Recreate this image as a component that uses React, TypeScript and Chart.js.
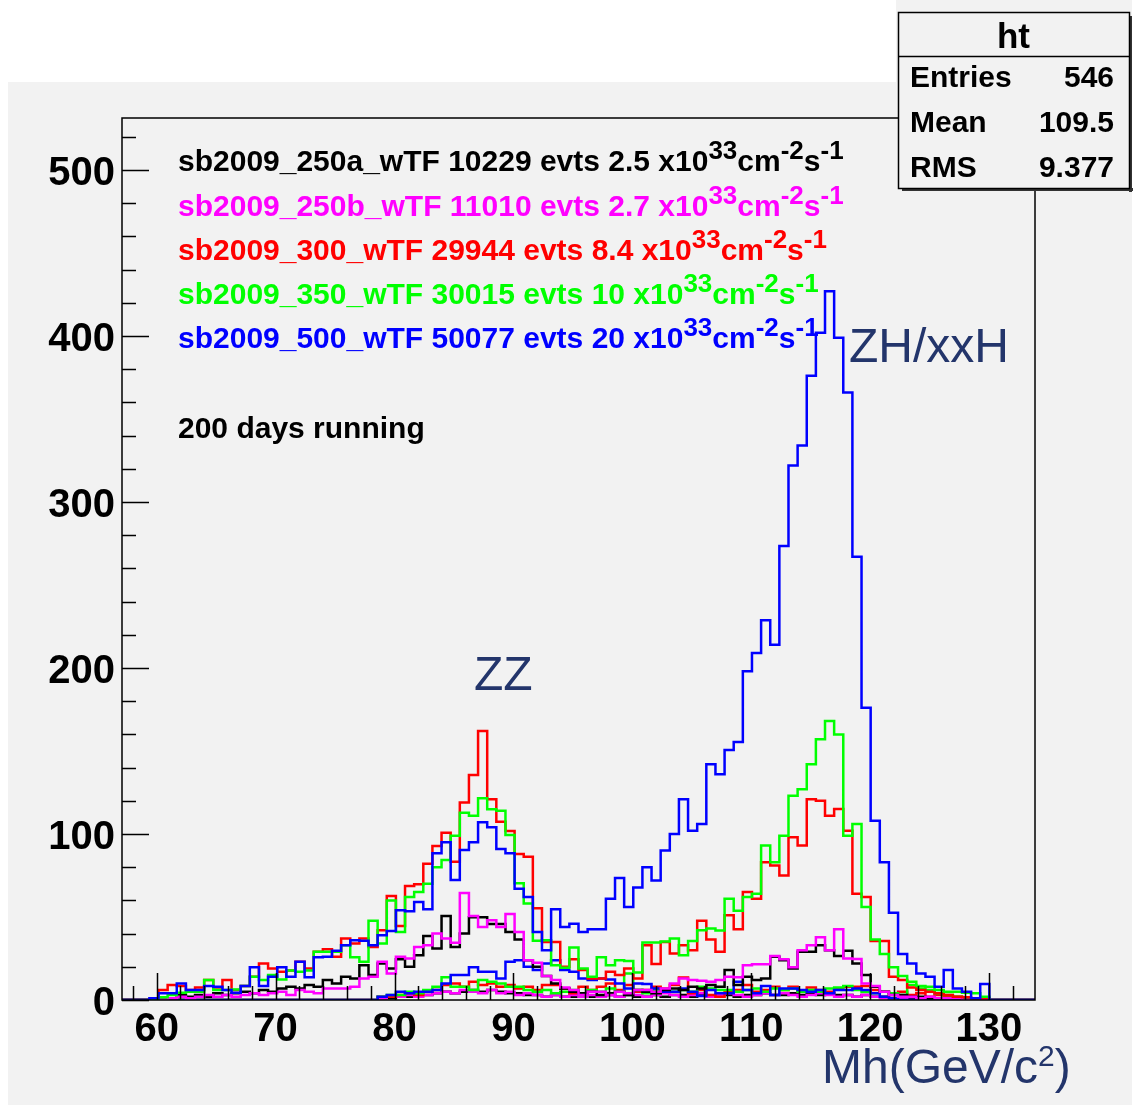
import React, { useEffect, useRef } from "react";
import { Chart, registerables } from "chart.js";

Chart.register(...registerables);

const W = 1137;
const H = 1105;
const X_MIN = 57.08;
const X_MAX = 133.87;
const N_BINS = 100;
const Y_MAX = 531.3;
const FONT = '"Liberation Sans", Arial, Helvetica, sans-serif';
const BG = "#f2f2f2";
const NAVY = "#23356b";

const xMajorTicks = [60, 70, 80, 90, 100, 110, 120, 130];
const xMinorStep = 2;
const yMajorTicks = [0, 100, 200, 300, 400, 500];
const yMinorStep = 20;

const legendNames = ["sb2009_250a_wTF", "sb2009_250b_wTF", "sb2009_300_wTF", "sb2009_350_wTF", "sb2009_500_wTF"];
const legendEvents = ["10229", "11010", "29944", "30015", "50077"];
const legendLumi = ["2.5", "2.7", "8.4", "10", "20"];
const legendColors = ["#000000", "#ff00ff", "#ff0000", "#00ff00", "#0000ff"];

const statsTitle = "ht";
const statsLabels = ["Entries", "Mean", "RMS"];
const statsValues = ["546", "109.5", "9.377"];

// main histograms (100 bins)
const blackMain = [
  0, 0, 0, 0, 0, 1, 3, 2, 3, 2,
  4, 3, 4, 5, 4, 6, 5, 7, 8, 7,
  9, 8, 12, 10, 14, 13, 21, 15, 22, 19,
  24.5, 20, 27, 38.6, 31, 50.6, 32, 40, 49.8, 49.8,
  45.8, 45.8, 41, 36.5, 24, 20, 14.5, 10, 7, 5,
  4, 5, 3, 4, 5, 3, 6, 5, 4, 6,
  7, 6, 8, 7, 9, 8, 18, 9, 14, 12,
  13, 26, 24, 19, 29, 29, 33, 30, 26.5, 29.7,
  22, 15, 8, 5, 3, 3, 2, 2, 1, 1,
  1, 0, 0, 0, 0, 0, 0, 0, 0, 0,
];
const magentaMain = [
  0, 0, 0, 0, 0, 1, 2, 1, 2, 3,
  2, 3, 2, 3, 4, 3, 4, 5, 3, 6,
  5, 4, 7, 7, 7, 8, 13, 14, 23, 16,
  26, 25, 32, 33, 40, 37, 34.5, 64.5, 50.6, 44,
  48, 44, 51.8, 41, 24, 22.5, 14.5, 12, 7.6, 6,
  3, 5, 5, 3, 5, 4, 6, 6, 5, 7,
  10, 13, 12, 11.6, 11, 12, 14, 13.7, 21, 21.5,
  21.5, 26.5, 24.5, 19.7, 30, 33, 37.8, 30, 42.6, 25,
  24.7, 10, 8.4, 5, 3, 2, 2, 1, 2, 1,
  1, 1, 0, 1, 0, 0, 0, 0, 0, 0,
];
const redMain = [
  0, 0, 0, 0, 6, 9, 8.4, 6, 7.6, 12,
  7.6, 12, 6, 8.4, 14, 22, 19, 17, 17.7, 23,
  19, 29, 30.5, 26, 37, 34, 37, 32, 42, 62.6,
  44.6, 68.7, 69.7, 82, 92.8, 100.8, 83.3, 119, 135.5, 162,
  121, 107.4, 101.8, 88, 86.3, 55.2, 35, 35, 20, 24.5,
  18, 13, 13, 17, 15, 19, 13, 33, 21.7, 35,
  28, 33, 30, 47.8, 36.5, 29, 51, 42.6, 65, 61,
  83, 81, 75, 98, 93, 121, 120, 111, 115, 102,
  64, 62, 35.5, 35.5, 14, 12, 7.6, 6, 5, 4,
  3, 2, 1.6, 1, 1, 0, 0, 0, 0, 0,
];
const greenMain = [
  0, 0, 0, 0, 1.6, 3, 4.4, 5, 5, 12,
  6, 6, 6.4, 8.4, 14, 12, 15, 12.4, 17.7, 17,
  17.7, 29, 29, 29, 33, 25.7, 23, 47.8, 34, 60,
  41, 62, 65, 70, 80, 84.3, 99, 112.8, 111, 121.5,
  114.9, 114, 99.4, 70.3, 58.2, 35.7, 36, 21, 19.5, 31.7,
  19, 14, 25.7, 21, 24, 23.5, 16.5, 34.6, 34.6, 35.3,
  37, 27, 35.6, 42, 43, 41.8, 61, 53.8, 62, 64,
  93, 83, 99, 123, 127, 142, 157, 168, 160, 99,
  106, 56, 36.5, 27.7, 19.7, 14.5, 11, 8.4, 8, 6,
  5, 5, 4.4, 4, 2, 0, 0, 0, 0, 0,
];
const blueMain = [
  0, 0, 0, 1, 4, 4, 10, 6, 6, 8.4,
  8, 6, 4.4, 8.4, 19.7, 8.4, 14, 19.7, 14, 23,
  13.7, 25.7, 26, 29.7, 33, 36, 35.7, 33, 39, 41.5,
  54, 53.5, 59, 54.6, 88.4, 95, 72.3, 90.4, 95, 107,
  104, 91, 88.4, 67, 62, 41, 30, 54.6, 44, 46,
  41, 42.6, 42.6, 61, 73.5, 56, 67.7, 80, 72, 90,
  100, 121, 102, 106, 142, 136, 150.6, 155.4, 198, 209,
  228.7, 214, 273.5, 322, 334, 376, 402, 427, 399, 366,
  267, 176, 108, 83, 52.6, 27.7, 22, 16, 14, 8,
  18, 7, 5, 1, 9.6, 0, 0, 0, 0, 0,
];

// low-level companion histograms (100 bins)
const blackLow = [
  0, 0, 0, 0, 0, 0, 0, 0, 0, 0,
  0, 0, 0, 0, 0, 0, 0, 0, 0, 0,
  0, 0, 0, 0, 0, 0, 0, 0, 1, 1,
  2, 2, 3, 3, 4, 5, 4, 5, 6, 5,
  6, 5, 4, 4, 3, 3, 2, 3, 2, 2,
  3, 2, 2, 3, 2, 3, 2, 2, 3, 2,
  3, 3, 2, 3, 2, 3, 3, 2, 3, 3,
  4, 3, 3, 4, 3, 4, 3, 4, 3, 3,
  2, 3, 2, 2, 1, 1, 1, 0, 0, 0,
  0, 0, 0, 0, 0, 0, 0, 0, 0, 0,
];
const magentaLow = [
  0, 0, 0, 0, 0, 0, 0, 0, 0, 0,
  0, 0, 0, 0, 0, 0, 0, 0, 0, 0,
  0, 0, 0, 0, 0, 0, 0, 0, 1, 2,
  2, 3, 2, 3, 4, 5, 4, 6, 5, 4,
  6, 4, 5, 3, 4, 3, 2, 3, 2, 3,
  2, 3, 2, 3, 2, 4, 3, 2, 3, 4,
  3, 2, 3, 4, 2, 3, 4, 3, 2, 3,
  4, 3, 4, 3, 2, 3, 4, 3, 2, 3,
  2, 3, 2, 1, 1, 1, 0, 0, 0, 0,
  0, 0, 0, 0, 0, 0, 0, 0, 0, 0,
];
const redLow = [
  0, 0, 0, 0, 0, 0, 0, 0, 0, 0,
  0, 0, 0, 0, 0, 0, 0, 0, 0, 0,
  0, 0, 0, 0, 0, 0, 0, 0, 2, 2,
  3, 4, 3, 5, 6, 9, 10, 8, 11, 9,
  10, 8, 9, 7, 8, 6, 9, 9, 7, 4,
  8, 6, 8, 10, 6, 9, 5, 6, 8, 7,
  9, 13.6, 4, 6, 3, 2, 5, 6, 9, 5,
  6, 8, 6, 8, 5, 7.6, 6, 5, 7, 8,
  8, 8.4, 6, 5, 4, 5, 3, 4, 2, 3,
  2, 2, 1, 1, 0, 0, 0, 0, 0, 0,
];
const greenLow = [
  0, 0, 0, 0, 0, 0, 0, 0, 0, 0,
  0, 0, 0, 0, 0, 0, 0, 0, 0, 0,
  0, 0, 0, 0, 0, 0, 0, 0, 2, 3,
  3, 5, 4, 6, 8, 13.7, 8, 8, 6, 12,
  11, 10, 8, 8, 6, 5, 6, 4, 5, 6,
  3, 6, 5, 7, 5, 16, 6, 4, 6, 5,
  5, 6, 5, 8, 7, 6, 6, 5, 6, 7,
  5, 7, 6, 7, 5, 6, 5, 7, 7.6, 8.4,
  6, 5, 4, 5, 4, 3, 9, 7, 6, 4,
  3, 2, 1, 0, 0, 0, 0, 0, 0, 0,
];
const blueLow = [
  0, 0, 0, 0, 0, 0, 0, 0, 0, 0,
  0, 0, 0, 0, 0, 0, 0, 0, 0, 0,
  0, 0, 0, 0, 0, 0, 0, 0, 2, 3,
  5, 4, 5, 5, 6, 10, 15, 15, 19.7, 17,
  17, 13, 23, 24, 20, 18, 22, 24, 18, 17,
  13, 12, 13, 12.4, 10, 7, 10, 9.6, 7, 5,
  5, 7, 5, 2.4, 6, 4, 4, 11, 6, 4,
  8.4, 3, 7, 7, 6, 5, 6, 4, 6, 6,
  7, 6, 4, 2, 1, 0, 0, 0, 0, 0,
  0, 0, 0, 0, 0, 0, 0, 0, 0, 0,
];

function toSteps(values: number[]) {
  const w = (X_MAX - X_MIN) / N_BINS;
  const pts = values.map((v, i) => ({ x: X_MIN + i * w, y: v }));
  pts.push({ x: X_MAX, y: 0 });
  return pts;
}

function ds(values: number[], color: string) {
  return {
    data: toSteps(values),
    borderColor: color,
    backgroundColor: color,
    borderWidth: 2.5,
    pointRadius: 0,
    fill: false,
    stepped: "before" as const,
    tension: 0,
  };
}

function drawParts(
  ctx: CanvasRenderingContext2D,
  x: number,
  baseline: number,
  parts: [string, boolean][],
  color: string,
  size: number,
  supSize: number,
  raise: number,
  weight: string
) {
  let cx = x;
  ctx.fillStyle = color;
  ctx.textAlign = "left";
  ctx.textBaseline = "alphabetic";
  for (const [t, sup] of parts) {
    ctx.font = `${weight} ${sup ? supSize : size}px ${FONT}`;
    ctx.fillText(t, cx, sup ? baseline - raise : baseline);
    cx += ctx.measureText(t).width;
  }
}

const decorPlugin = {
  id: "decor",
  beforeDraw(chart: any) {
    const ctx = chart.ctx as CanvasRenderingContext2D;
    ctx.save();
    ctx.fillStyle = "#ffffff";
    ctx.fillRect(0, 0, W, H);
    ctx.fillStyle = BG;
    ctx.fillRect(8, 82, 1124, H - 82);
    ctx.fillRect(896, 0, 236, 82);
    ctx.restore();
  },
  afterDatasetsDraw(chart: any) {
    const ctx = chart.ctx as CanvasRenderingContext2D;
    const a = chart.chartArea;
    const xs = chart.scales.x;
    const ys = chart.scales.y;
    ctx.save();
    ctx.strokeStyle = "#000";
    ctx.lineWidth = 1.5;
    ctx.strokeRect(a.left, a.top, a.right - a.left, a.bottom - a.top);

    ctx.beginPath();
    for (let v = 0; v <= Y_MAX; v += yMinorStep) {
      const py = Math.round(ys.getPixelForValue(v)) + 0.5;
      const len = yMajorTicks.includes(v) ? 27 : 14;
      ctx.moveTo(a.left, py);
      ctx.lineTo(a.left + len, py);
    }
    for (let v = Math.ceil(X_MIN / xMinorStep) * xMinorStep; v <= X_MAX; v += xMinorStep) {
      const px = Math.round(xs.getPixelForValue(v)) + 0.5;
      const len = xMajorTicks.includes(v) ? 27 : 14;
      ctx.moveTo(px, a.bottom);
      ctx.lineTo(px, a.bottom - len);
    }
    ctx.stroke();

    ctx.fillStyle = "#000";
    ctx.font = `bold 40px ${FONT}`;
    ctx.textAlign = "right";
    ctx.textBaseline = "alphabetic";
    for (const v of yMajorTicks) {
      const py = ys.getPixelForValue(v);
      ctx.fillText(String(v), a.left - 7, py + 15);
    }
    ctx.textAlign = "center";
    for (const v of xMajorTicks) {
      const px = xs.getPixelForValue(v);
      ctx.fillText(String(v), px, a.bottom + 41);
    }
    ctx.restore();
  },
  afterDraw(chart: any) {
    const ctx = chart.ctx as CanvasRenderingContext2D;
    ctx.save();

    const baselines = [171, 215.5, 260, 304, 348];
    legendNames.forEach((name, i) => {
      drawParts(
        ctx,
        178,
        baselines[i],
        [
          [`${name} ${legendEvents[i]} evts ${legendLumi[i]} x10`, false],
          ["33", true],
          ["cm", false],
          ["-2", true],
          ["s", false],
          ["-1", true],
        ],
        legendColors[i],
        30,
        26,
        12,
        "bold"
      );
    });
    drawParts(ctx, 178, 438, [["200 days running", false]], "#000", 30, 26, 12, "bold");

    drawParts(ctx, 474, 690, [["ZZ", false]], NAVY, 48, 30, 20, "normal");
    drawParts(ctx, 849, 362, [["ZH/xxH", false]], NAVY, 48, 30, 20, "normal");
    drawParts(
      ctx,
      822,
      1083,
      [["Mh(GeV/c", false], ["2", true], [")", false]],
      NAVY,
      48,
      30,
      17,
      "normal"
    );

    const bx = 898, by = 12, bw = 231, bh = 176;
    ctx.fillStyle = "#333";
    ctx.fillRect(bx + 4, by + bh, bw, 3);
    ctx.fillRect(bx + bw, by + 4, 3, bh);
    ctx.fillStyle = BG;
    ctx.fillRect(bx, by, bw, bh);
    ctx.strokeStyle = "#000";
    ctx.lineWidth = 1.5;
    ctx.strokeRect(bx + 0.5, by + 0.5, bw, bh);
    ctx.beginPath();
    ctx.moveTo(bx, 56.5);
    ctx.lineTo(bx + bw, 56.5);
    ctx.stroke();
    ctx.fillStyle = "#000";
    ctx.font = `bold 35px ${FONT}`;
    ctx.textAlign = "center";
    ctx.textBaseline = "alphabetic";
    ctx.fillText(statsTitle, bx + bw / 2, 48);
    ctx.font = `bold 30px ${FONT}`;
    const rowBase = [87, 131.5, 176.5];
    statsLabels.forEach((lab, i) => {
      ctx.textAlign = "left";
      ctx.fillText(lab, 910, rowBase[i]);
      ctx.textAlign = "right";
      ctx.fillText(statsValues[i], 1114, rowBase[i]);
    });
    ctx.restore();
  },
};

export default function App() {
  const ref = useRef<HTMLCanvasElement | null>(null);
  useEffect(() => {
    if (!ref.current) return;
    const chart = new Chart(ref.current, {
      type: "line",
      data: {
        datasets: [
          ds(blueMain, "#0000ff"),
          ds(greenMain, "#00ff00"),
          ds(redMain, "#ff0000"),
          ds(magentaMain, "#ff00ff"),
          ds(blackMain, "#000000"),
          ds(blueLow, "#0000ff"),
          ds(greenLow, "#00ff00"),
          ds(redLow, "#ff0000"),
          ds(magentaLow, "#ff00ff"),
          ds(blackLow, "#000000"),
        ] as any,
      },
      options: {
        animation: false,
        responsive: false,
        devicePixelRatio: 1,
        layout: { padding: { left: 122, top: 118, right: W - 1035, bottom: H - 1000 } },
        scales: {
          x: { type: "linear", min: X_MIN, max: X_MAX, display: false },
          y: { type: "linear", min: 0, max: Y_MAX, display: false },
        },
        plugins: { legend: { display: false }, tooltip: { enabled: false } },
        events: [],
      },
      plugins: [decorPlugin],
    });
    return () => chart.destroy();
  }, []);
  return (
    <div style={{ position: "absolute", left: 0, top: 0, width: W, height: H }}>
      <canvas ref={ref} width={W} height={H} style={{ display: "block" }} />
    </div>
  );
}
